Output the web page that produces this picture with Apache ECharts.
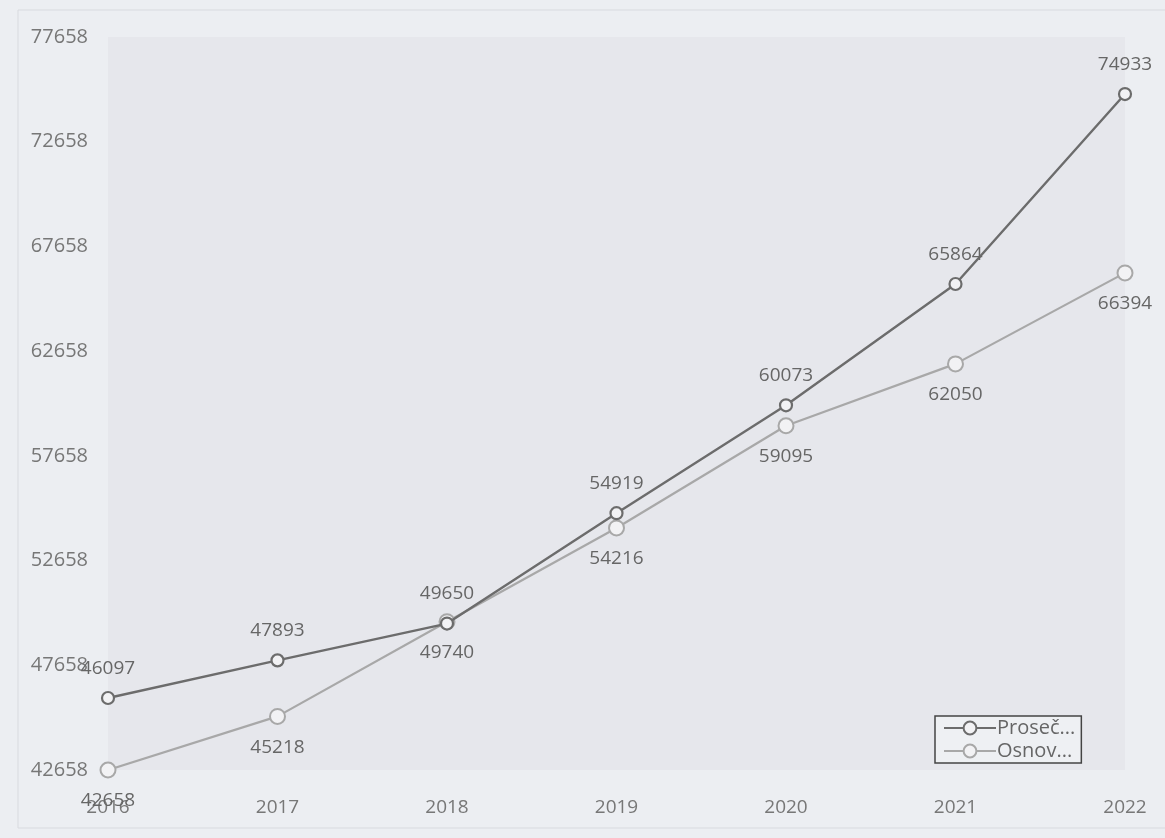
<!DOCTYPE html>
<html><head><meta charset="utf-8">
<script src="https://cdn.jsdelivr.net/npm/echarts@6/dist/echarts.min.js"></script>
<style>html,body{margin:0;padding:0;background:#eceef2}#c{width:1165px;height:838px}</style>
</head><body><div id="c"></div>
<script>
const years = ['2016','2017','2018','2019','2020','2021','2022'];
const prosecna = [46097, 47893, 49650, 54919, 60073, 65864, 74933];
const osnovica = [42658, 45218, 49740, 54216, 59095, 62050, 66394];
const seriesNames = ['Proseč...', 'Osnov...'];
const yMin = 42658, yMax = 77658, yStep = 5000;

const font = 'Open Sans';
const chart = echarts.init(document.getElementById('c'));
chart.setOption({
  backgroundColor: '#eceef2',
  textStyle: {fontFamily: font},
  graphic: [{type:'rect', shape:{x:18,y:10,width:1150,height:818}, style:{fill:'none', stroke:'#d8dadf', lineWidth:1}, silent:true}],
  grid: {left:108, right:40, top:37, bottom:68, show:true, backgroundColor:'#e6e7ec', borderWidth:0},
  legend: {
    orient:'vertical', left:935, top:716, itemWidth:52, itemHeight:16, itemGap:3,
    borderColor:'#444', borderWidth:1.5, borderRadius:0, padding:[2,6,2,8],
    backgroundColor:'#eef0f3',
    textStyle:{fontFamily:font, fontSize:20, color:'#666', padding:[0,0,0,-4]},
    data: seriesNames
  },
  xAxis: {
    type:'category', data: years, boundaryGap:false,
    axisLine:{show:false}, axisTick:{show:false}, splitLine:{show:false},
    axisLabel:{fontSize:19, color:'#777', margin:28, fontFamily:font}
  },
  yAxis: {
    type:'value', min:yMin, max:yMax, interval:yStep,
    axisLine:{show:false}, axisTick:{show:false}, splitLine:{show:false},
    axisLabel:{fontSize:20, color:'#777', margin:20, fontFamily:font, formatter: v => String(v)}
  },
  series: [
    {name:seriesNames[0], type:'line', data:prosecna, symbol:'circle', symbolSize:12,
     lineStyle:{color:'#6c6c6c', width:2.4}, itemStyle:{color:'#f2f2f4', borderColor:'#6c6c6c', borderWidth:2.2},
     label:{show:true, position:'top', distance:13, fontSize:19, color:'#666', fontFamily:font}, z:3},
    {name:seriesNames[1], type:'line', data:osnovica, symbol:'circle', symbolSize:15,
     lineStyle:{color:'#a8a8a8', width:2.2}, itemStyle:{color:'#f2f2f4', borderColor:'#a8a8a8', borderWidth:2},
     label:{show:true, position:'bottom', distance:13, fontSize:19, color:'#666', fontFamily:font}, z:2}
  ]
});
</script></body></html>
